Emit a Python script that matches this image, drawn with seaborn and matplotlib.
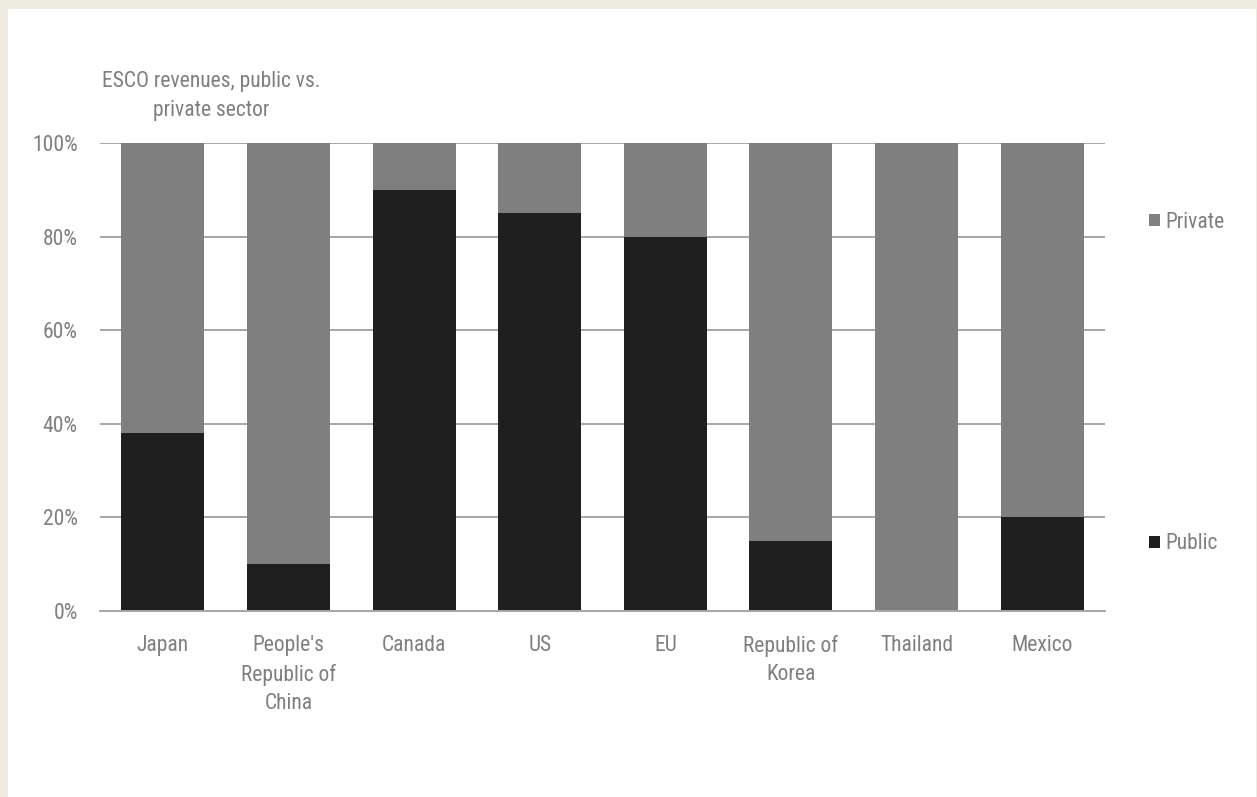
import matplotlib
matplotlib.use("Agg")
import matplotlib.pyplot as plt
import seaborn as sns
import pandas as pd
from matplotlib.patches import Rectangle, Patch
from matplotlib.ticker import FuncFormatter

categories = ["Japan", "People's\nRepublic of\nChina", "Canada", "US", "EU",
              "Republic of\nKorea", "Thailand", "Mexico"]
public = [38, 10, 90, 85, 80, 15, 0, 20]
private = [62, 90, 10, 15, 20, 85, 100, 80]
yticks = [0, 20, 40, 60, 80, 100]

sns.set_theme(style="white")
plt.rcParams['font.family'] = ['Roboto Condensed', 'Liberation Sans', 'DejaVu Sans']

TXT = "#7f7f7f"
C_PUB = "#1f1f1f"
C_PRI = "#7f7f7f"
FS = 15.5

df = pd.DataFrame({"cat": categories, "public": public, "private": private})
df["total"] = df["public"] + df["private"]

fig = plt.figure(figsize=(12.57, 7.97), dpi=100, facecolor="#edebe0")
fig.patches.append(Rectangle((8/1257, 0), 1 - 9/1257, 1 - 9/797, transform=fig.transFigure,
                             facecolor="white", edgecolor="none", zorder=-10))
ax = fig.add_axes([100/1257, 1 - 611/797, 1005/1257, 468/797])
ax.set_facecolor("none")

sns.barplot(data=df, x="cat", y="total", color=C_PRI, saturation=1, width=0.66,
            ax=ax, zorder=3, edgecolor="none")
sns.barplot(data=df, x="cat", y="public", color=C_PUB, saturation=1, width=0.66,
            ax=ax, zorder=4, edgecolor="none")

ax.set_ylim(0, 100)
ax.set_xlim(-0.5, 7.5)
ax.set_yticks(yticks)
ax.yaxis.set_major_formatter(FuncFormatter(lambda v, p: f"{int(v)}%"))
for y in yticks[1:]:
    ax.axhline(y, color="#a6a6a6", lw=1.4, zorder=1)
for s in ["top", "right", "left"]:
    ax.spines[s].set_visible(False)
ax.spines["bottom"].set_color("#a6a6a6")
ax.spines["bottom"].set_linewidth(1.4)
ax.spines["bottom"].set_zorder(5)
ax.tick_params(axis="both", length=0, labelsize=FS, labelcolor=TXT)
ax.tick_params(axis="y", pad=16)
ax.tick_params(axis="x", pad=17)
ax.set_xlabel("")
ax.set_ylabel("")
for lab in ax.get_xticklabels():
    lab.set_linespacing(1.47)

fig.text(211/1257, 1 - 96/797, "ESCO revenues, public vs.\nprivate sector",
         ha="center", va="center", fontsize=FS, color=TXT, linespacing=1.47)

handles = [Patch(facecolor=C_PRI, edgecolor="none", label="Private"),
           Patch(facecolor=C_PUB, edgecolor="none", label="Public")]
leg = fig.legend(handles=handles, loc="center left", bbox_to_anchor=(1130/1257, 1 - 383/797),
                 frameon=False, fontsize=FS, labelcolor=TXT, handlelength=0.5,
                 handleheight=0.5, handletextpad=0.25, labelspacing=13.97)

fig.savefig("out.png", dpi=100, facecolor=fig.get_facecolor())
